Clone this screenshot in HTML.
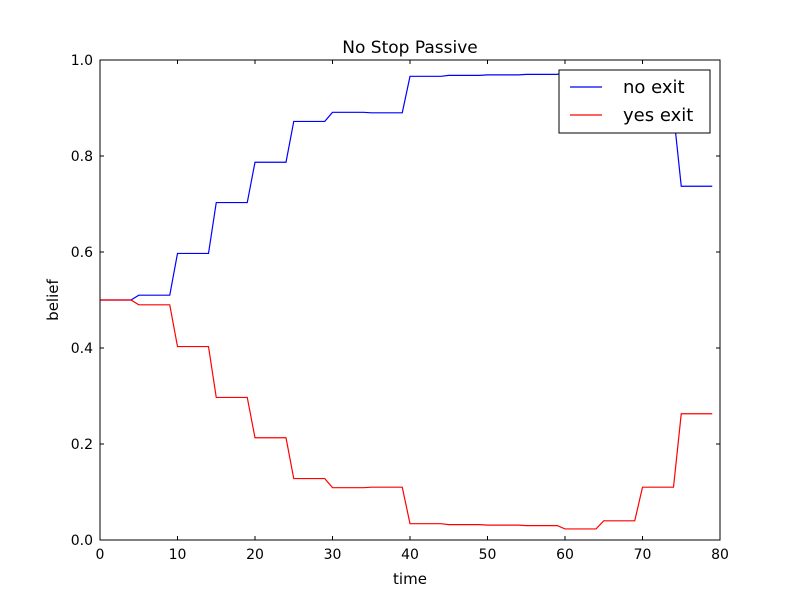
<!DOCTYPE html>
<html><head><meta charset="utf-8"><style>
body{margin:0;background:#fff}
svg{display:block;font-family:"DejaVu Sans","Liberation Sans",sans-serif}
</style></head><body>
<svg id="chart" width="800" height="600">
<rect width="800" height="600" fill="#bfbfbf"/>
<rect x="0" y="0" width="800" height="600" fill="#fff"/>
</svg>
<script>
const times = [];
for (let i = 0; i < 80; i++) times.push(i);
const noExit = [0.5,0.5,0.5,0.5,0.5, 0.51,0.51,0.51,0.51,0.51, 0.597,0.597,0.597,0.597,0.597, 0.703,0.703,0.703,0.703,0.703, 0.787,0.787,0.787,0.787,0.787, 0.872,0.872,0.872,0.872,0.872, 0.891,0.891,0.891,0.891,0.891, 0.89,0.89,0.89,0.89,0.89, 0.966,0.966,0.966,0.966,0.966, 0.968,0.968,0.968,0.968,0.968, 0.969,0.969,0.969,0.969,0.969, 0.97,0.97,0.97,0.97,0.97, 0.977,0.977,0.977,0.977,0.977, 0.96,0.96,0.96,0.96,0.96, 0.89,0.89,0.89,0.89,0.89, 0.737,0.737,0.737,0.737,0.737];
const yesExit = [0.5,0.5,0.5,0.5,0.5, 0.49,0.49,0.49,0.49,0.49, 0.403,0.403,0.403,0.403,0.403, 0.297,0.297,0.297,0.297,0.297, 0.213,0.213,0.213,0.213,0.213, 0.128,0.128,0.128,0.128,0.128, 0.109,0.109,0.109,0.109,0.109, 0.11,0.11,0.11,0.11,0.11, 0.034,0.034,0.034,0.034,0.034, 0.032,0.032,0.032,0.032,0.032, 0.031,0.031,0.031,0.031,0.031, 0.03,0.03,0.03,0.03,0.03, 0.023,0.023,0.023,0.023,0.023, 0.04,0.04,0.04,0.04,0.04, 0.11,0.11,0.11,0.11,0.11, 0.263,0.263,0.263,0.263,0.263];
const xTicks = [0,10,20,30,40,50,60,70,80];
const yTicks = [0.0,0.2,0.4,0.6,0.8,1.0];

const L=100,R=720,T=60,B=540;
const sx = v => L + (v-0)/(80-0)*(R-L);
const sy = v => B - (v-0)/(1-0)*(B-T);
const svg = document.getElementById('chart');
const NS='http://www.w3.org/2000/svg';
function mk(tag, attrs, parent){const e=document.createElementNS(NS,tag);for(const k in attrs)e.setAttribute(k,attrs[k]);(parent||svg).appendChild(e);return e;}

function series(vals, color, name){
  const d = vals.map((v,i)=>(i?'L':'M')+sx(times[i]).toFixed(2)+','+sy(v).toFixed(2)).join(' ');
  const p = mk('path',{d:d,fill:'none',stroke:color,'stroke-width':1.2});
  
  
}
series(noExit,'#0000ff','no-exit-line');
series(yesExit,'#ff0000','yes-exit-line');

const frame = mk('rect',{x:L,y:T,width:R-L,height:B-T,fill:'none',stroke:'#000','stroke-width':1});



xTicks.forEach(t=>{
  const x=sx(t);
  mk('line',{x1:x,x2:x,y1:B,y2:B-4,stroke:'#000'});
  mk('line',{x1:x,x2:x,y1:T,y2:T+4,stroke:'#000'});
  const tx=mk('text',{x:x,y:B+19,'text-anchor':'middle','font-size':14});
  tx.textContent=t;
  
  
});
yTicks.forEach(t=>{
  const y=sy(t);
  mk('line',{x1:L,x2:L+4,y1:y,y2:y,stroke:'#000'});
  mk('line',{x1:R,x2:R-4,y1:y,y2:y,stroke:'#000'});
  const tx=mk('text',{x:L-7,y:y+5,'text-anchor':'end','font-size':14});
  tx.textContent=t.toFixed(1);
  
  
});

const title=mk('text',{x:410,y:53,'text-anchor':'middle','font-size':17});
title.textContent='No Stop Passive';


const xl=mk('text',{x:410,y:584,'text-anchor':'middle','font-size':15});
xl.textContent='time';


const yl=mk('text',{x:58,y:300,'text-anchor':'middle','font-size':15,transform:'rotate(-90 58 300)'});
yl.textContent='belief';



const lg=mk('g',{});


mk('rect',{x:559,y:70,width:151,height:63,fill:'#fff',stroke:'#000','stroke-width':1},lg);
const e1=mk('g',{},lg);


mk('line',{x1:570,x2:602,y1:87,y2:87,stroke:'#0000ff','stroke-width':1.2},e1);
const t1=mk('text',{x:623,y:93,'font-size':18},e1);t1.textContent='no exit';
const e2=mk('g',{},lg);


mk('line',{x1:570,x2:602,y1:115,y2:115,stroke:'#ff0000','stroke-width':1.2},e2);
const t2=mk('text',{x:623,y:121,'font-size':18},e2);t2.textContent='yes exit';
</script>
</body></html>
